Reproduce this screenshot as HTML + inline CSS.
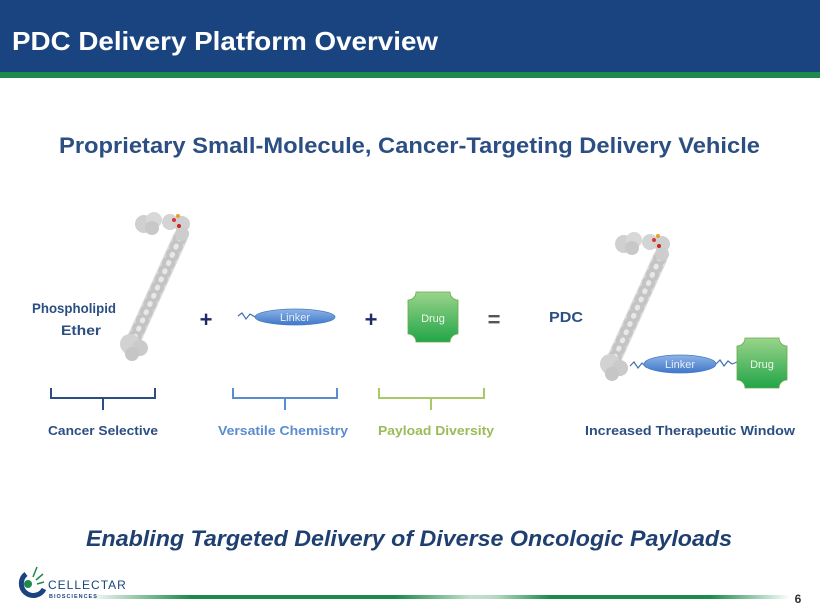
<!DOCTYPE html>
<html><head><meta charset="utf-8"><style>
html,body{margin:0;padding:0;background:#fff;}
body{width:820px;height:615px;position:relative;overflow:hidden;font-family:"Liberation Sans",sans-serif;}
</style></head><body>
<svg width="820" height="615" viewBox="0 0 820 615" xmlns="http://www.w3.org/2000/svg" style="position:absolute;left:0;top:0">
<defs>
<linearGradient id="dg" x1="0" y1="0" x2="0" y2="1"><stop offset="0" stop-color="#9ad48a"/><stop offset="1" stop-color="#22a548"/></linearGradient>
<linearGradient id="lg" x1="0" y1="0" x2="0" y2="1"><stop offset="0" stop-color="#8fb4e6"/><stop offset="1" stop-color="#3f77c9"/></linearGradient>
<linearGradient id="fl" x1="0" y1="0" x2="1" y2="0"><stop offset="0" stop-color="#1c8a4a" stop-opacity="0"/><stop offset="0.25" stop-color="#1c8a4a"/><stop offset="0.75" stop-color="#1c8a4a"/><stop offset="1" stop-color="#1c8a4a" stop-opacity="0"/></linearGradient>
<g id="mol">
<path d="M36,18 L-14,128" stroke="#dcdcdc" stroke-width="15" stroke-linecap="round" fill="none"/>
<path d="M36,18 L-14,128" stroke="#c4c4c4" stroke-width="13" stroke-dasharray="1 8" stroke-linecap="round" fill="none"/>
<path d="M36,18 L-14,128" stroke="#e8e8e8" stroke-width="5" stroke-dasharray="1 8" stroke-linecap="round" fill="none"/>
<circle cx="0" cy="4" r="9" fill="#d0d0d0"/><circle cx="10" cy="0" r="8" fill="#d8d8d8"/><circle cx="8" cy="8" r="7" fill="#c8c8c8"/>
<circle cx="26" cy="2" r="8" fill="#d4d4d4"/><circle cx="38" cy="4" r="8" fill="#d0d0d0"/><circle cx="38" cy="14" r="7" fill="#cdcdcd"/>
<circle cx="-14" cy="124" r="10" fill="#d2d2d2"/><circle cx="-4" cy="128" r="8" fill="#cacaca"/><circle cx="-12" cy="134" r="7" fill="#c6c6c6"/>
<circle cx="30" cy="0" r="2" fill="#d33"/><circle cx="34" cy="-4" r="2" fill="#e4a030"/><circle cx="35" cy="6" r="2" fill="#c22"/>
</g>
<g id="drug"><path d="M8,0 H42 A8,8 0 0 0 50,8 V42 A8,8 0 0 0 42,50 H8 A8,8 0 0 0 0,42 V8 A8,8 0 0 0 8,0 Z" fill="url(#dg)" stroke="#6aa84f" stroke-width="0.8"/></g>
</defs>
<rect x="0" y="0" width="820" height="72" fill="#1a4480"/>
<rect x="0" y="72" width="820" height="6" fill="#1b8a4a"/>
<text x="12" y="50" fill="#fff" font-size="26" font-weight="bold" textLength="426" lengthAdjust="spacingAndGlyphs">PDC Delivery Platform Overview</text>
<text x="59" y="153" fill="#2b4f82" font-size="22" font-weight="bold" textLength="701" lengthAdjust="spacingAndGlyphs">Proprietary Small-Molecule, Cancer-Targeting Delivery Vehicle</text>

<use href="#mol" x="144" y="220"/>
<use href="#mol" x="624" y="240"/>

<text x="32" y="313" fill="#2b4f82" font-size="14" font-weight="bold" textLength="84" lengthAdjust="spacingAndGlyphs">Phospholipid</text>
<text x="61" y="335" fill="#2b4f82" font-size="14" font-weight="bold" textLength="40" lengthAdjust="spacingAndGlyphs">Ether</text>
<text x="206" y="327" text-anchor="middle" fill="#1e2a6a" font-size="22" font-weight="bold">+</text>
<text x="371" y="327" text-anchor="middle" fill="#1e2a6a" font-size="22" font-weight="bold">+</text>
<text x="494" y="327" text-anchor="middle" fill="#555" font-size="22" font-weight="bold">=</text>
<text x="549" y="322" fill="#2b4f82" font-size="15" font-weight="bold" textLength="34" lengthAdjust="spacingAndGlyphs">PDC</text>

<path d="M238,316 l4,-3 l4,6 l4,-5 l5,3" stroke="#3f6fb0" stroke-width="1.2" fill="none"/>
<ellipse cx="295" cy="317" rx="40" ry="8" fill="url(#lg)" stroke="#4a7cc4" stroke-width="0.8"/>
<text x="295" y="321" text-anchor="middle" fill="#e6eefa" font-size="11">Linker</text>
<use href="#drug" x="408" y="292"/>
<text x="433" y="322" text-anchor="middle" fill="#eef8ea" font-size="11">Drug</text>

<path d="M630,366 l4,-4 l4,6 l4,-5 l4,4 l3,-3" stroke="#3f6fb0" stroke-width="1.2" fill="none"/>
<ellipse cx="680" cy="364" rx="36" ry="9" fill="url(#lg)" stroke="#4a7cc4" stroke-width="0.8"/>
<text x="680" y="368" text-anchor="middle" fill="#e6eefa" font-size="11">Linker</text>
<path d="M716,364 l4,-4 l4,6 l4,-5 l4,3 l5,-2" stroke="#3f6fb0" stroke-width="1.2" fill="none"/>
<use href="#drug" x="737" y="338"/>
<text x="762" y="368" text-anchor="middle" fill="#eef8ea" font-size="11">Drug</text>

<path d="M51,388 v10 h104 v-10 M103,398 v12" stroke="#2b4f82" stroke-width="2" fill="none"/>
<path d="M233,388 v10 h104 v-10 M285,398 v12" stroke="#5b8bd0" stroke-width="2" fill="none"/>
<path d="M379,388 v10 h105 v-10 M431,398 v12" stroke="#a8c86a" stroke-width="2" fill="none"/>

<text x="48" y="435" fill="#2b4f82" font-size="13" font-weight="bold" textLength="110" lengthAdjust="spacingAndGlyphs">Cancer Selective</text>
<text x="218" y="435" fill="#5b8bd0" font-size="13" font-weight="bold" textLength="130" lengthAdjust="spacingAndGlyphs">Versatile Chemistry</text>
<text x="378" y="435" fill="#9bbb59" font-size="13" font-weight="bold" textLength="116" lengthAdjust="spacingAndGlyphs">Payload Diversity</text>
<text x="585" y="435" fill="#2b4f82" font-size="13" font-weight="bold" textLength="210" lengthAdjust="spacingAndGlyphs">Increased Therapeutic Window</text>

<text x="86" y="546" fill="#1f3f70" font-size="22" font-weight="bold" font-style="italic" textLength="646" lengthAdjust="spacingAndGlyphs">Enabling Targeted Delivery of Diverse Oncologic Payloads</text>

<rect x="88" y="595" width="410" height="4" fill="url(#fl)"/>
<rect x="470" y="595" width="320" height="4" fill="url(#fl)"/>
<text x="798" y="603" text-anchor="middle" fill="#333" font-size="12" font-weight="bold">6</text>

<path d="M26,574 A12,12 0 1 0 44,589" stroke="#1a4480" stroke-width="5" fill="none"/>
<circle cx="28" cy="584" r="4" fill="#1b8a4a"/>
<path d="M33,577 l4,-10 M36,580 l7,-6 M37,584 l7,-2" stroke="#1b8a4a" stroke-width="1.5"/>
<text x="48" y="589" fill="#1a4480" font-size="12" letter-spacing="1">CELLECTAR</text>
<text x="49" y="598" fill="#1a4480" font-size="5.5" letter-spacing="1" font-weight="bold">BIOSCIENCES</text>
</svg>
</body></html>
